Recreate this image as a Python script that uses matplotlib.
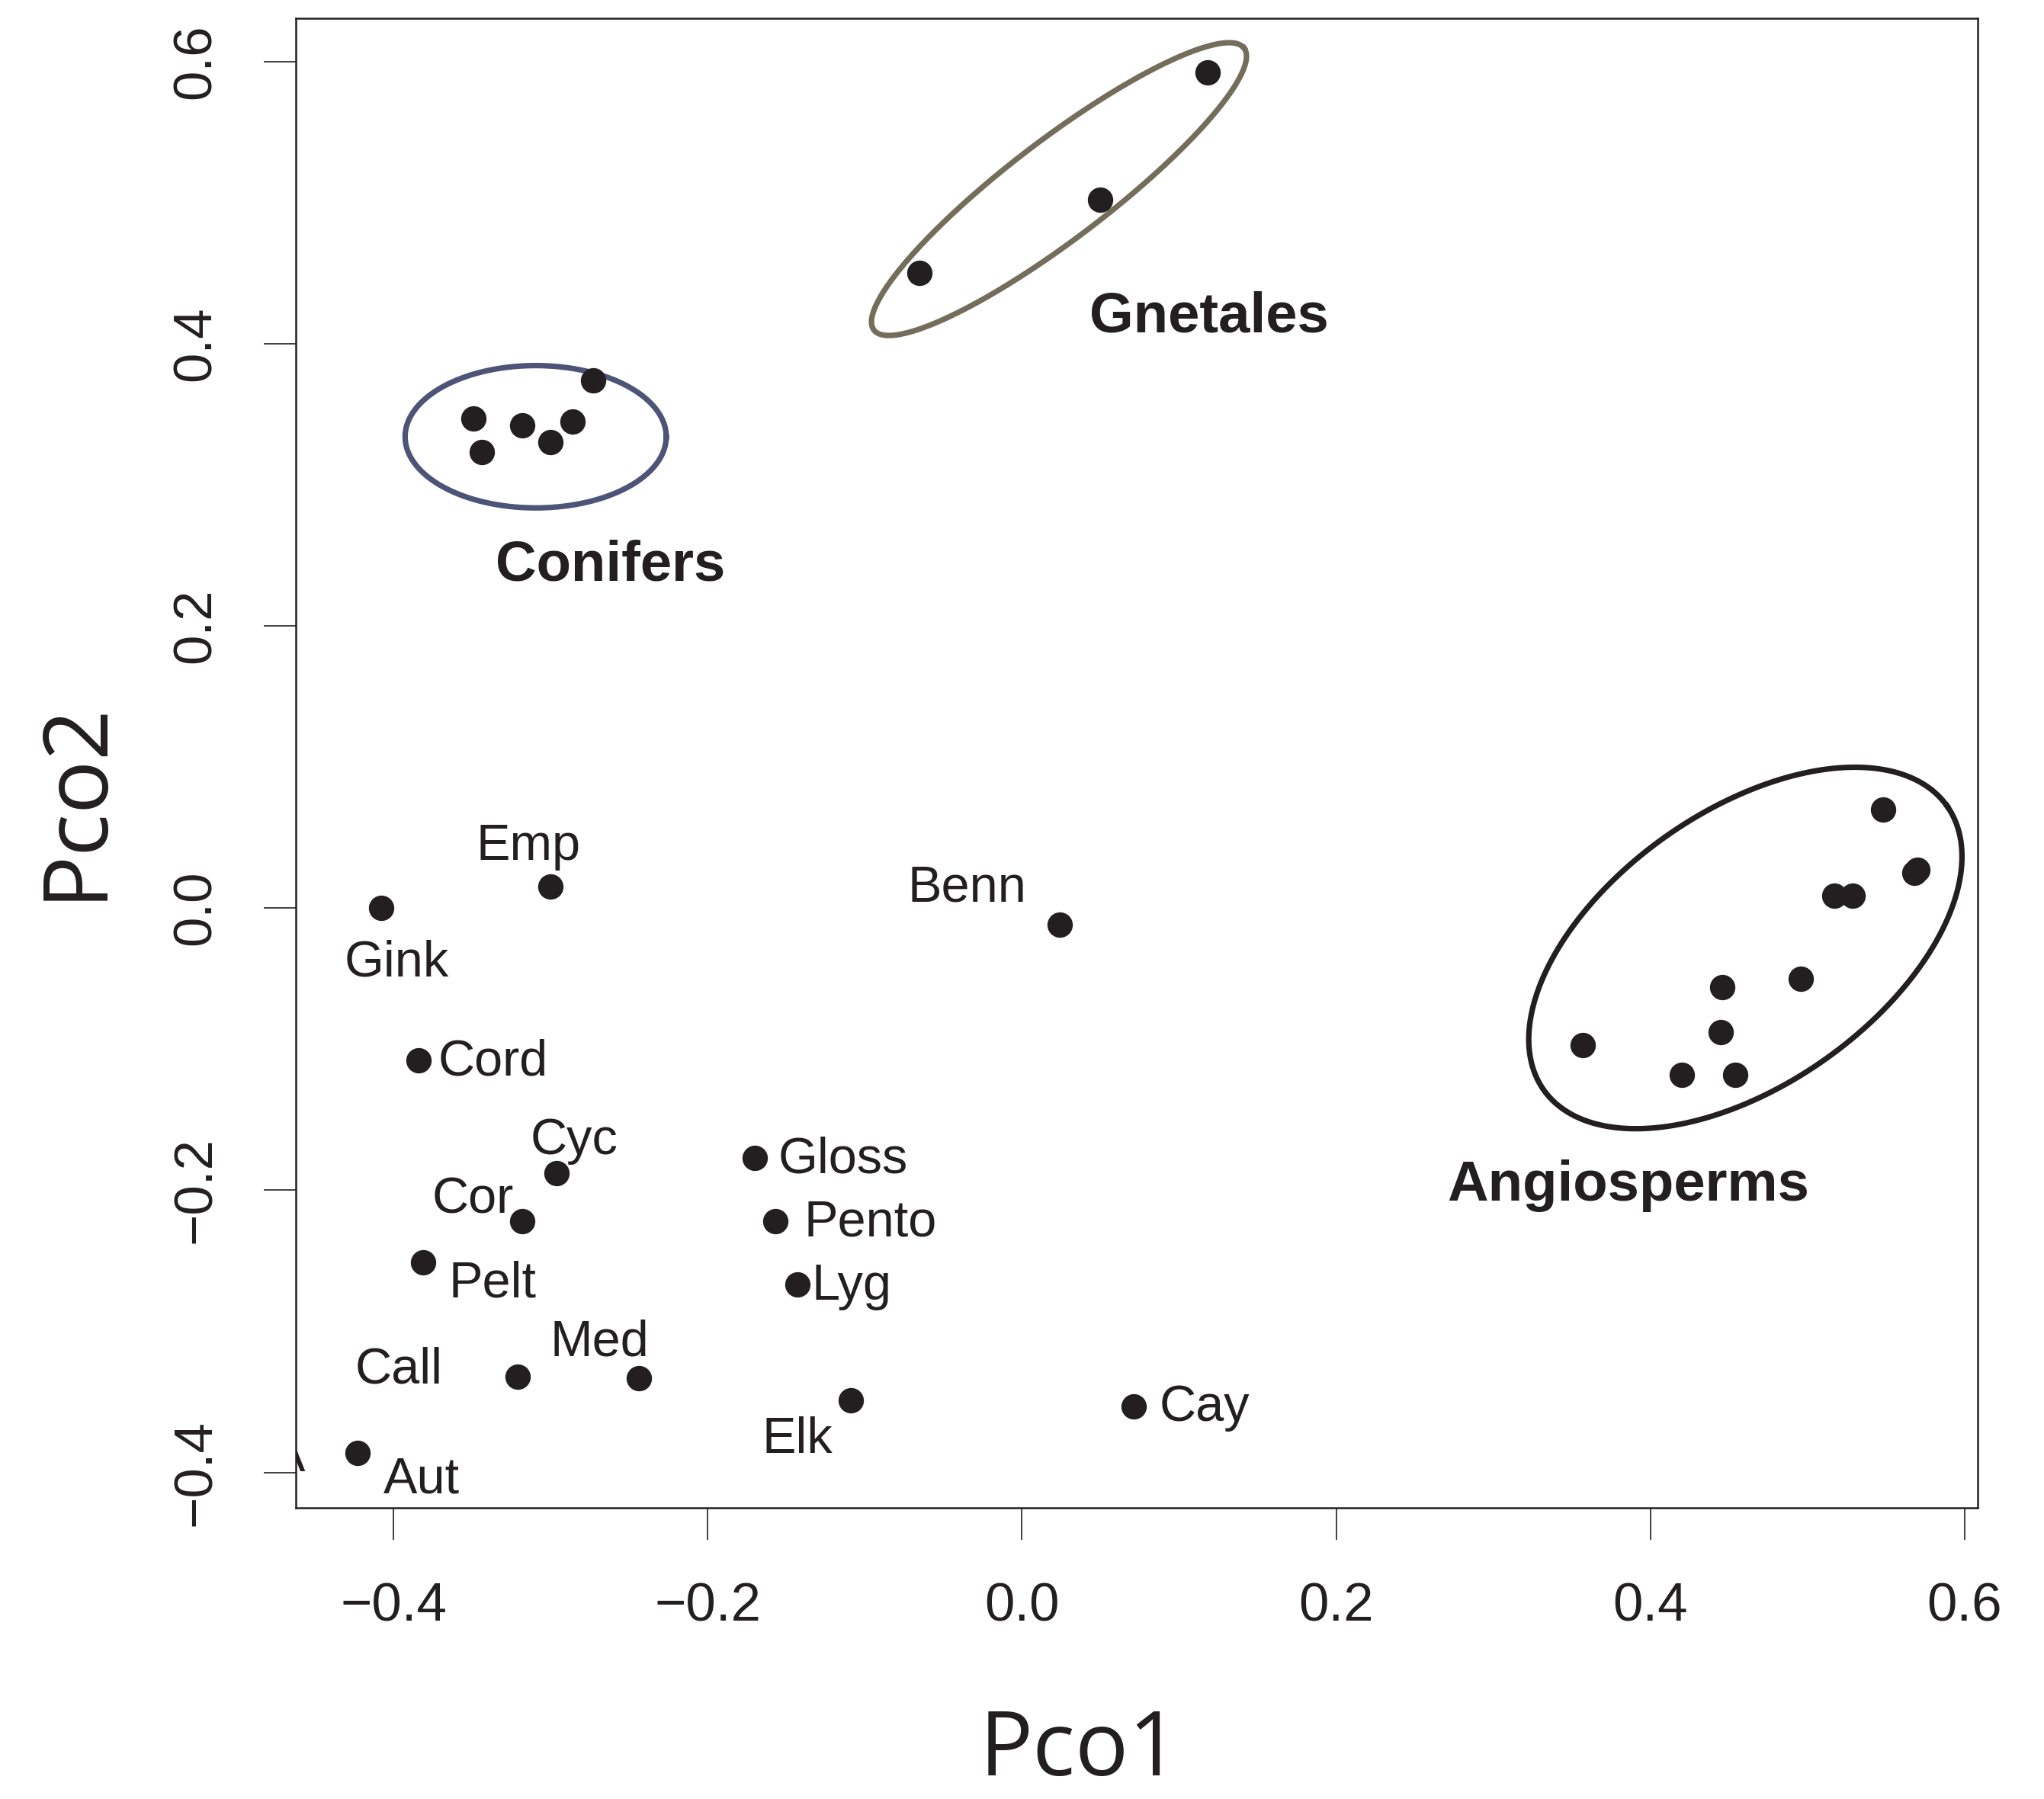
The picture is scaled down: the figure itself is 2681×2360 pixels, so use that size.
import numpy as np
import matplotlib
matplotlib.use("Agg")
import matplotlib.pyplot as plt

# --- data ---
taxa = ["Emp", "Gink", "Benn", "Cord", "Cyc", "Cor", "Pelt", "Gloss",
        "Pento", "Lyg", "Med", "Call", "Aut", "Elk", "Cay"]
taxa_x = [-0.300, -0.408, 0.024, -0.384, -0.296, -0.318, -0.381, -0.170,
          -0.157, -0.143, -0.244, -0.321, -0.423, -0.109, 0.071]
taxa_y = [0.015, 0.000, -0.012, -0.108, -0.188, -0.222, -0.251, -0.177,
          -0.222, -0.267, -0.333, -0.332, -0.386, -0.349, -0.353]

conifer_x = [-0.349, -0.344, -0.318, -0.300, -0.286, -0.273]
conifer_y = [0.347, 0.323, 0.342, 0.330, 0.345, 0.374]

gnetales_x = [-0.065, 0.050, 0.118]
gnetales_y = [0.450, 0.502, 0.592]

angio_x = [0.357, 0.420, 0.446, 0.445, 0.454, 0.496, 0.517, 0.529, 0.548, 0.568, 0.570]
angio_y = [-0.097, -0.118, -0.056, -0.088, -0.118, -0.050, 0.009, 0.009, 0.070, 0.025, 0.027]

x_ticks = [-0.4, -0.2, 0.0, 0.2, 0.4, 0.6]
y_ticks = [-0.4, -0.2, 0.0, 0.2, 0.4, 0.6]

# label placement (offset in points, horizontal alignment)
label_pos = {
    "Emp": ((-10.5, 19.0), "center"),
    "Gink": ((7.4, -26.0), "center"),
    "Benn": ((-43.7, 17.2), "center"),
    "Cord": ((9.2, -0.8), "left"),
    "Cyc": ((8.0, 15.3), "center"),
    "Cor": ((-23.4, 9.8), "center"),
    "Pelt": ((32.6, -10.5), "center"),
    "Gloss": ((11.1, -0.8), "left"),
    "Pento": ((13.5, -0.8), "left"),
    "Lyg": ((6.8, -0.8), "left"),
    "Med": ((-18.5, 16.6), "center"),
    "Call": ((-56.0, 3.0), "center"),
    "Aut": ((30.2, -13.0), "center"),
    "Elk": ((-25.2, -18.5), "center"),
    "Cay": ((12.3, -0.8), "left"),
}

ink = "#231f20"
plt.rcParams["font.family"] = ["Liberation Sans", "DejaVu Sans"]

fig = plt.figure(figsize=(13.405, 11.8), dpi=200)
ax = fig.add_axes([0.1447, 0.1619, 0.8228, 0.8279])
xlim = (-0.4622, 0.6083)
ylim = (-0.425, 0.6305)
ax.set_xlim(*xlim)
ax.set_ylim(*ylim)

# points
all_x = taxa_x + conifer_x + gnetales_x + angio_x
all_y = taxa_y + conifer_y + gnetales_y + angio_y
ax.scatter(all_x, all_y, s=144, color=ink, linewidths=0, zorder=3)

# taxa labels
for name, x, y in zip(taxa, taxa_x, taxa_y):
    off, ha = label_pos[name]
    ax.annotate(name, (x, y), xytext=off, textcoords="offset points",
                ha=ha, va="center", fontsize=24, color=ink)

# clipped label at the left edge
ax.text(-0.478, -0.399, "A", fontsize=24, color=ink, clip_on=True)

# group ellipses (center, semi-axes in x units, angle on screen)
sx = ax.bbox.width / (xlim[1] - xlim[0])
sy = ax.bbox.height / (ylim[1] - ylim[0])

def draw_ellipse(cx, cy, a, b, angle, color):
    t = np.linspace(0, 2 * np.pi, 400)
    th = np.deg2rad(angle)
    ap, bp = a * sx, b * sx
    ex = ap * np.cos(t) * np.cos(th) - bp * np.sin(t) * np.sin(th)
    ey = ap * np.cos(t) * np.sin(th) + bp * np.sin(t) * np.cos(th)
    ax.plot(cx + ex / sx, cy + ey / sy, color=color, lw=2.6, zorder=2)

draw_ellipse(-0.3095, 0.3340, 0.0831, 0.0453, 0, "#4d5477")
draw_ellipse(0.0236, 0.5095, 0.1481, 0.0316, 37.3, "#756d5c")
draw_ellipse(0.4605, -0.0283, 0.1570, 0.0872, 35.1, ink)

# group names
ax.text(-0.2621, 0.2425, "Conifers", fontsize=26.8, fontweight="bold",
        color=ink, ha="center", va="center")
ax.text(0.1191, 0.4189, "Gnetales", fontsize=26.8, fontweight="bold",
        color=ink, ha="center", va="center")
ax.text(0.3857, -0.197, "Angiosperms", fontsize=26.8, fontweight="bold",
        color=ink, ha="center", va="center")

# axes styling
ax.set_xticks(x_ticks)
ax.set_yticks(y_ticks)
ax.set_xticklabels([f"{v:.1f}".replace("-", "\u2212") for v in x_ticks])
ax.set_yticklabels([f"{v:.1f}".replace("-", "\u2212") for v in y_ticks],
                   rotation=90, va="center")
ax.tick_params(direction="out", length=15, width=0.6, pad=20,
               labelsize=25.5, colors=ink)
for sp in ax.spines.values():
    sp.set_linewidth(0.9)
    sp.set_color(ink)

fig.text(1416 / 2681, 1 - 2298 / 2360, "Pco1", fontsize=42, color=ink,
         ha="center", va="center", family=["Open Sans", "DejaVu Sans"])
fig.text(100 / 2681, 1 - 1050 / 2360, "Pco2", fontsize=42, color=ink,
         rotation=90, ha="center", va="center",
         family=["Open Sans", "DejaVu Sans"])

fig.savefig("out.png", dpi=200, facecolor="white")
